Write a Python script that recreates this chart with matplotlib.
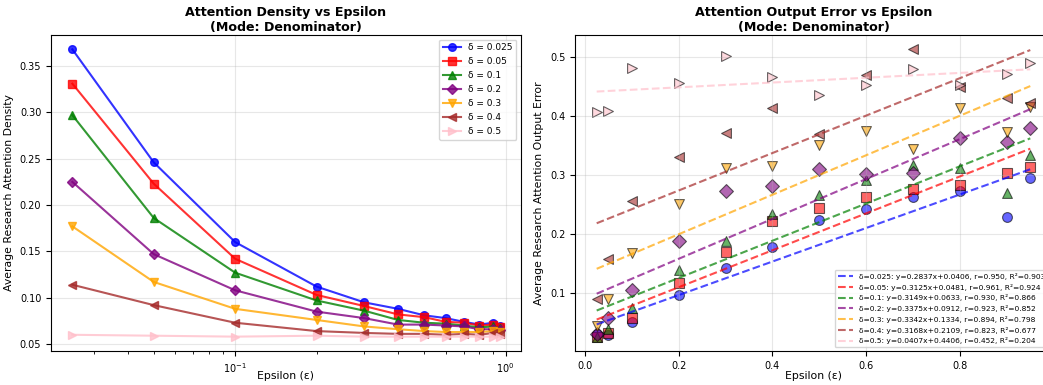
import matplotlib
matplotlib.use("Agg")
import matplotlib.pyplot as plt
import numpy as np

# epsilon values
eps = [0.025, 0.05, 0.1, 0.2, 0.3, 0.4, 0.5, 0.6, 0.7, 0.8, 0.9, 0.95]
deltas = ['0.025', '0.05', '0.1', '0.2', '0.3', '0.4', '0.5']
colors = ['blue', 'red', 'green', 'purple', 'orange', 'brown', 'pink']
markers = ['o', 's', '^', 'D', 'v', '<', '>']

# left panel: average attention density
density = [
    [0.368, 0.246, 0.160, 0.112, 0.095, 0.088, 0.081, 0.078, 0.074, 0.071, 0.073, 0.069],
    [0.331, 0.223, 0.142, 0.103, 0.091, 0.082, 0.079, 0.074, 0.073, 0.070, 0.071, 0.068],
    [0.297, 0.186, 0.127, 0.097, 0.086, 0.076, 0.073, 0.072, 0.070, 0.068, 0.069, 0.067],
    [0.225, 0.147, 0.108, 0.085, 0.078, 0.071, 0.071, 0.070, 0.069, 0.066, 0.066, 0.065],
    [0.177, 0.117, 0.088, 0.076, 0.069, 0.066, 0.064, 0.063, 0.063, 0.063, 0.064, 0.063],
    [0.114, 0.092, 0.073, 0.064, 0.062, 0.061, 0.061, 0.060, 0.061, 0.060, 0.062, 0.061],
    [0.060, 0.059, 0.058, 0.059, 0.058, 0.058, 0.058, 0.058, 0.058, 0.058, 0.058, 0.058],
]

# right panel: attention output error
error = [
    [0.031, 0.030, 0.051, 0.097, 0.143, 0.179, 0.224, 0.243, 0.263, 0.273, 0.229, 0.296],
    [0.027, 0.033, 0.059, 0.118, 0.170, 0.222, 0.245, 0.263, 0.277, 0.283, 0.303, 0.314],
    [0.027, 0.040, 0.075, 0.139, 0.188, 0.235, 0.266, 0.292, 0.318, 0.312, 0.270, 0.335],
    [0.032, 0.058, 0.106, 0.189, 0.273, 0.281, 0.311, 0.302, 0.303, 0.363, 0.357, 0.380],
    [0.045, 0.091, 0.168, 0.252, 0.313, 0.315, 0.352, 0.375, 0.345, 0.414, 0.373, 0.415],
    [0.091, 0.159, 0.256, 0.331, 0.372, 0.414, 0.369, 0.470, 0.513, 0.450, 0.430, 0.423],
    [0.407, 0.408, 0.482, 0.456, 0.501, 0.467, 0.435, 0.452, 0.480, 0.452, 0.471, 0.490],
]

# linear fit results shown in the legend
slopes = [0.2837, 0.3125, 0.3149, 0.3375, 0.3342, 0.3168, 0.0407]
intercepts = [0.0406, 0.0481, 0.0633, 0.0912, 0.1334, 0.2109, 0.4406]
r_vals = [0.950, 0.961, 0.930, 0.923, 0.894, 0.823, 0.452]
r2_vals = [0.903, 0.924, 0.866, 0.852, 0.798, 0.677, 0.204]

fig = plt.figure(figsize=(10.43, 3.85), dpi=100)
ax1 = fig.add_axes([0.0489, 0.0883, 0.4506, 0.8208])
ax2 = fig.add_axes([0.5513, 0.0883, 0.4573, 0.8208])

for i in range(len(deltas)):
    ax1.plot(eps, density[i], color=colors[i], marker=markers[i], markersize=5.5,
             linewidth=1.5, alpha=0.8, label=f'δ = {deltas[i]}')
ax1.set_xscale('log')
ax1.set_xlabel('Epsilon (ε)', fontsize=7.8, labelpad=-2.5)
ax1.set_ylabel('Average Research Attention Density', fontsize=7.8)
ax1.set_title('Attention Density vs Epsilon\n(Mode: Denominator)', fontsize=9.1,
              fontweight='bold', linespacing=1.15, pad=3)
ax1.tick_params(labelsize=7)
ax1.grid(True, alpha=0.3)
ax1.legend(fontsize=6.5, loc='upper right', labelspacing=0.55)

x_fit = np.linspace(min(eps), max(eps), 50)
for i in range(len(deltas)):
    ax2.scatter(eps, error[i], color=colors[i], marker=markers[i], s=50,
                alpha=0.6, edgecolors='black', linewidths=0.8)
    lbl = (f'δ={deltas[i]}: y={slopes[i]:.4f}x+{intercepts[i]:.4f}, '
           f'r={r_vals[i]:.3f}, R²={r2_vals[i]:.3f}')
    ax2.plot(x_fit, slopes[i] * x_fit + intercepts[i], '--', color=colors[i],
             alpha=0.7, linewidth=1.5, label=lbl)
ax2.set_xlabel('Epsilon (ε)', fontsize=7.8, labelpad=0.5)
ax2.set_ylabel('Average Research Attention Output Error', fontsize=7.8)
ax2.set_title('Attention Output Error vs Epsilon\n(Mode: Denominator)', fontsize=9.1,
              fontweight='bold', linespacing=1.15, pad=3)
ax2.tick_params(labelsize=7)
ax2.grid(True, alpha=0.3)
ax2.legend(fontsize=5.4, loc='lower right')

fig.savefig('out.png', dpi=100)
